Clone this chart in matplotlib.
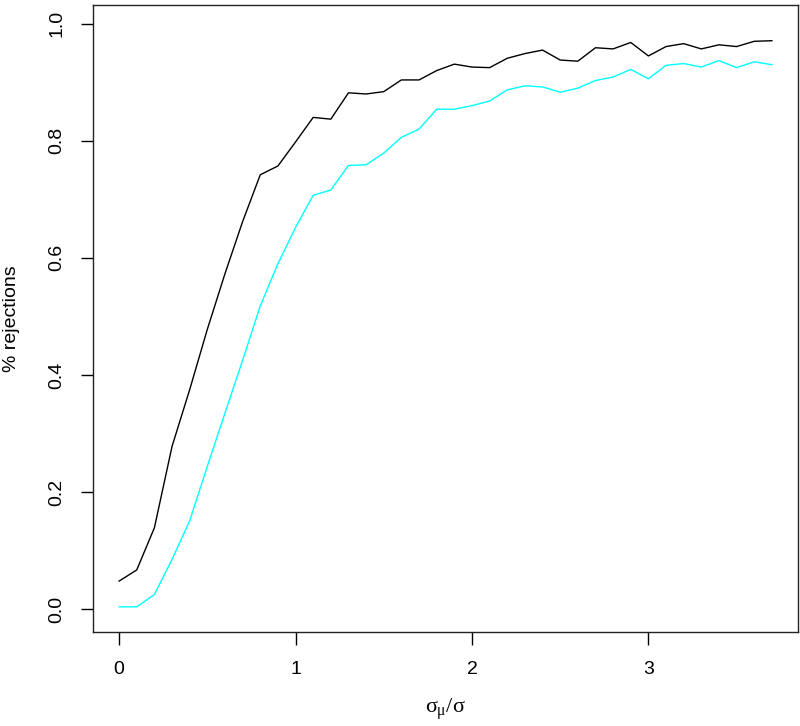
import matplotlib
matplotlib.use("Agg")
import matplotlib.pyplot as plt
import numpy as np

plt.rcParams['font.family'] = ['Liberation Sans', 'DejaVu Sans']
plt.rcParams['mathtext.fontset'] = 'custom'
plt.rcParams['mathtext.rm'] = 'Liberation Serif'
plt.rcParams['mathtext.it'] = 'Liberation Serif'

ratio = np.round(np.arange(0, 3.75, 0.1), 1)

rej_black = [0.048, 0.067, 0.139, 0.278, 0.375, 0.478, 0.573, 0.662, 0.742, 0.757,
             0.798, 0.840, 0.837, 0.882, 0.880, 0.884, 0.904, 0.904, 0.920, 0.931,
             0.926, 0.925, 0.941, 0.949, 0.955, 0.938, 0.936, 0.959, 0.957, 0.968,
             0.945, 0.961, 0.966, 0.957, 0.964, 0.961, 0.970, 0.971]

rej_cyan = [0.004, 0.004, 0.025, 0.085, 0.151, 0.244, 0.335, 0.425, 0.518, 0.590,
            0.652, 0.707, 0.716, 0.758, 0.759, 0.779, 0.806, 0.820, 0.854, 0.854,
            0.860, 0.868, 0.887, 0.894, 0.892, 0.883, 0.890, 0.903, 0.909, 0.922,
            0.906, 0.929, 0.932, 0.926, 0.937, 0.925, 0.935, 0.930]

xticks = [0, 1, 2, 3]
yticks = [0.0, 0.2, 0.4, 0.6, 0.8, 1.0]
ytick_labels = ["0.0", "0.2", "0.4", "0.6", "0.8", "1.0"]

W, H = 800, 726
fig = plt.figure(figsize=(W / 100, H / 100), dpi=100)
left, right, top, bottom = 93, 798, 5, 632
ax = fig.add_axes([left / W, (H - bottom) / H, (right - left) / W, (bottom - top) / H])

ax.plot(ratio, rej_black, color="black", lw=1.0)
ax.plot(ratio, rej_cyan, color="#00FFFF", lw=1.0)

xmin, xmax = 0.0, 3.7
xr = xmax - xmin
ax.set_xlim(xmin - 0.04 * xr, xmax + 0.04 * xr)
ax.set_ylim(-0.039, 1.032)

ax.set_xticks(xticks)
ax.set_xticklabels([str(t) for t in xticks])
ax.set_yticks(yticks)
ax.set_yticklabels(ytick_labels, rotation=90, va="center")

ax.tick_params(axis="both", direction="out", length=9, width=1, labelsize=14, color="black")
ax.tick_params(axis="x", pad=12)
ax.tick_params(axis="y", pad=11)
for s in ax.spines.values():
    s.set_linewidth(1.0)
    s.set_color("#222222")

ax.set_xlabel(r"$\sigma_{\mu}/\sigma$", fontsize=16, labelpad=13)
ax.set_ylabel("% rejections", fontsize=14, labelpad=20)

fig.savefig("out.png", dpi=100)
